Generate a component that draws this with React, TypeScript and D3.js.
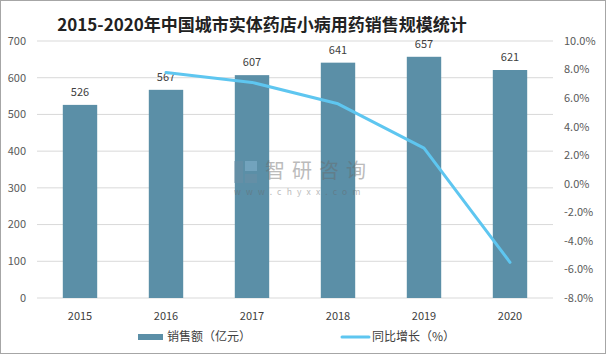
import React from "react";
import * as d3 from "d3";

const years = ["2015", "2016", "2017", "2018", "2019", "2020"];
const sales = [526, 567, 607, 641, 657, 621];
const growthYears = ["2016", "2017", "2018", "2019", "2020"];
const growth = [7.8, 7.1, 5.6, 2.5, -5.5];
const leftTicks = [0, 100, 200, 300, 400, 500, 600, 700];
const rightTicks = [-8, -6, -4, -2, 0, 2, 4, 6, 8, 10];

const W = 606, H = 355;
const M = { left: 37, right: 553, top: 41, bottom: 298 };
const BAR = "#5B8FA7";
const LINE = "#5EC6F0";
const FONT = "'Noto Sans CJK SC', 'Noto Sans', sans-serif";

export default function App() {
  const x = d3.scaleBand().domain(years).range([M.left, M.right]).paddingInner(0.6).paddingOuter(0.3);
  const xc = (d: string) => (x(d) as number) + x.bandwidth() / 2;
  const yL = d3.scaleLinear().domain([0, 700]).range([M.bottom, M.top]);
  const yR = d3.scaleLinear().domain([-8, 10]).range([M.bottom, M.top]);
  const line = d3.line<number>().x((_, i) => xc(growthYears[i])).y((d) => yR(d));

  return (
    <svg width={W} height={H} style={{ position: "absolute", left: 0, top: 0, background: "#fff" }} fontFamily={FONT}>
      <rect x={0.5} y={0.5} width={W - 1} height={H - 2} fill="#fff" stroke="#a6a6a6" />
      <text x={262} y={31} textAnchor="middle" fontSize={17} fontWeight="bold" fill="#222">
        2015-2020年中国城市实体药店小病用药销售规模统计
      </text>
      {leftTicks.map((t) => (
        <g key={t}>
          <line x1={M.left} x2={M.right} y1={yL(t)} y2={yL(t)} stroke="#d9d9d9" />
          <text x={26} y={yL(t)} dy="0.35em" textAnchor="end" fontSize={11} fill="#595959">{t}</text>
        </g>
      ))}
      {rightTicks.map((t) => (
        <text key={t} x={564} y={yR(t)} dy="0.35em" textAnchor="start" fontSize={11} fill="#595959">
          {t.toFixed(1)}%
        </text>
      ))}
      {years.map((y, i) => (
        <g key={y}>
          <rect x={x(y)} y={yL(sales[i])} width={x.bandwidth()} height={M.bottom - yL(sales[i])} fill={BAR} />
          <text x={xc(y)} y={yL(sales[i]) - 9} textAnchor="middle" fontSize={11} fill="#404040">{sales[i]}</text>
          <text x={xc(y)} y={320} textAnchor="middle" fontSize={11} fill="#404040">{y}</text>
        </g>
      ))}
      <path d={line(growth) || ""} fill="none" stroke={LINE} strokeWidth={3} strokeLinejoin="round" strokeLinecap="round" />
      {/* watermark */}
      <g opacity={0.45}>
        <rect x={234} y={161} width={9} height={22} fill="#6f8fa6" />
        <rect x={245} y={161} width={12} height={10} fill="#8fbcd8" />
        <rect x={245} y={174} width={12} height={9} fill="#6f8fa6" />
        <text x={265} y={178} fontSize={20} fill="#6a6a6a" letterSpacing={7}>智研咨询</text>
        <text x={234} y={195} fontSize={8.5} fill="#6a6a6a" letterSpacing={5.2}>www.chyxx.com</text>
      </g>
      <rect x={138} y={334} width={25} height={6} fill={BAR} />
      <text x={167} y={341} fontSize={12} fill="#404040">销售额（亿元）</text>
      <line x1={342} x2={369} y1={337} y2={337} stroke={LINE} strokeWidth={3} strokeLinecap="round" />
      <text x={372} y={341} fontSize={12} fill="#404040">同比增长（%）</text>
    </svg>
  );
}
